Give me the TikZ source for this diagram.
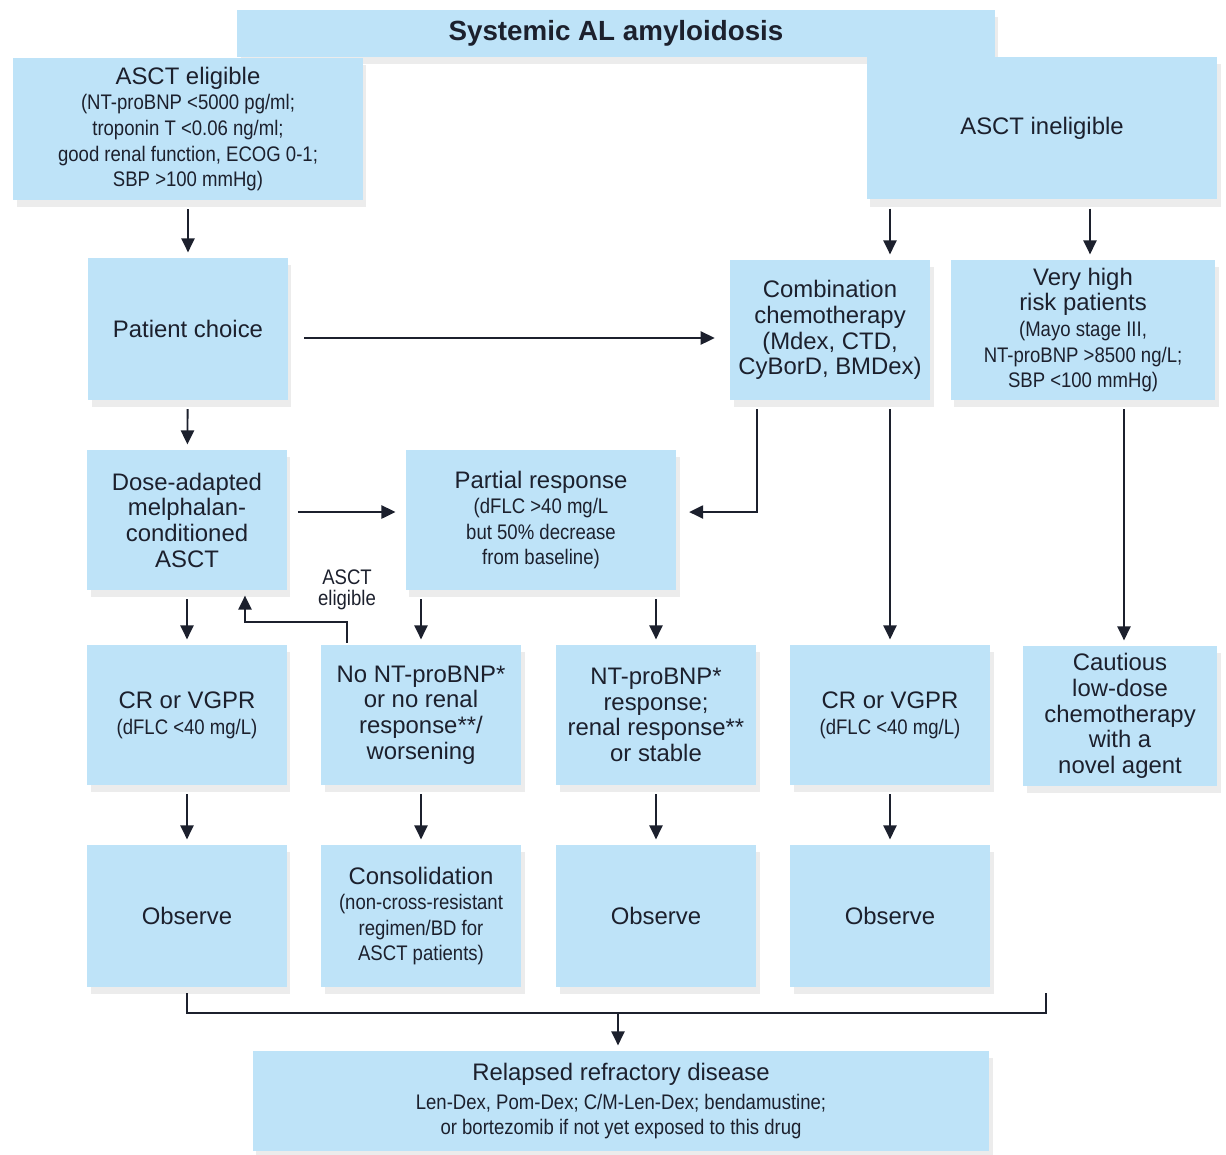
\documentclass[tikz,border=0pt]{standalone}
\usepackage{fontspec}
\setmainfont{Liberation Sans}
\newfontfamily\condfont[FakeStretch=0.88]{Liberation Sans}
\usetikzlibrary{arrows.meta, shadows}
\definecolor{boxblue}{RGB}{190,227,248}
\definecolor{ink}{RGB}{28,32,45}
\newcommand{\sm}{\condfont\fontsize{12}{14.3}\selectfont}

\begin{document}
\begin{tikzpicture}[x=0.02cm, y=-0.02cm,
    box/.style={fill=boxblue, text=ink, align=center, inner sep=2pt,
        minimum width=4cm, minimum height=2.8cm,
        font=\fontsize{13.6}{14.6}\selectfont,
        drop shadow={shadow xshift=2pt, shadow yshift=-4pt, opacity=0.15}},
    arr/.style={-{Triangle[length=8pt, width=7.5pt]}, line width=1.1pt, draw=ink,
        shorten <=5pt, shorten >=3pt},
    line/.style={line width=1.1pt, draw=ink}]
    \useasboundingbox (0,0) rectangle (1226,1154);

    % top rows
    \node[box, minimum width=15.16cm, minimum height=0.94cm,
        font=\bfseries\fontsize{15.8}{16}\selectfont] (title) at (616,33) {Systemic AL amyloidosis};
    \node[box, minimum width=7cm, minimum height=2.84cm] (elig) at (188,129)
        {ASCT eligible\\ \sm (NT-proBNP <5000 pg/ml;\\ \sm troponin T <0.06 ng/ml;\\
        \sm good renal function, ECOG 0-1;\\ \sm SBP >100 mmHg)};
    \node[box, minimum width=7.02cm, minimum height=2.86cm] (inelig) at (1042,128) {ASCT ineligible};

    \node[box, minimum height=2.84cm] (choice) at (188,329) {Patient choice};
    \node[box] (combo) at (830,330)
        {Combination\\ chemotherapy\\ (Mdex, CTD,\\ CyBorD, BMDex)};
    \node[box, minimum width=5.3cm] (risk) at (1083,330)
        {Very high\\ risk patients\\ \sm (Mayo stage III,\\ \sm NT-proBNP >8500 ng/L;\\ \sm SBP <100 mmHg)};

    \node[box] (asct) at (187,520) {Dose-adapted\\ melphalan-\\ conditioned\\ ASCT};
    \node[box, minimum width=5.42cm] (partial) at (541,520)
        {Partial response\\ \sm (dFLC >40 mg/L\\ \sm but 50\% decrease\\ \sm from baseline)};

    % responses
    \node[box] (crl) at (187,715) {CR or VGPR\\ \sm (dFLC <40 mg/L)};
    \node[box] (nonresp) at (421,715) {No NT-proBNP*\\ or no renal\\ response**/\\ worsening};
    \node[box] (resp) at (656,715) {NT-proBNP*\\ response;\\ renal response**\\ or stable};
    \node[box] (crr) at (890,715) {CR or VGPR\\ \sm (dFLC <40 mg/L)};
    \node[box, minimum width=3.88cm] (cautious) at (1120,716) {Cautious\\ low-dose\\ chemotherapy\\ with a\\ novel agent};

    \node[box, minimum height=2.84cm] (obs1) at (187,916) {Observe};
    \node[box, minimum height=2.84cm] (consol) at (421,916)
        {Consolidation\\ \sm (non-cross-resistant\\ \sm regimen/BD for\\ \sm ASCT patients)};
    \node[box, minimum height=2.84cm] (obs2) at (656,916) {Observe};
    \node[box, minimum height=2.84cm] (obs3) at (890,916) {Observe};

    \node[box, minimum width=14.74cm, minimum height=2cm] (relapse) at (621,1101)
        {Relapsed refractory disease\\[2pt] \sm Len-Dex, Pom-Dex; C/M-Len-Dex; bendamustine;\\
        \sm or bortezomib if not yet exposed to this drug};

    \node[text=ink, align=center] (lbl) at (347,590) {\sm ASCT\\ \sm eligible};

    % connectors
    \draw[arr] (elig.south -| choice.north) -- (choice.north);
    \draw[arr] (inelig.south -| crr.north) -- (combo.north -| crr.north);
    \draw[arr] ([xshift=0.14cm]inelig.south -| risk.north) -- ([xshift=0.14cm]risk.north);
    \draw[arr, shorten <=9pt, shorten >=8.5pt] ([yshift=-0.18cm]choice.east) -- ([yshift=-0.18cm]choice.east -| combo.west);
    \draw[arr] (choice) -- (asct);
    \draw[arr, shorten <=6pt, shorten >=5.5pt] ([yshift=0.16cm]asct.east) -- ([yshift=0.16cm]asct.east -| partial.west);
    \draw[arr, shorten >=7pt] ([xshift=-1.46cm]combo.south) |- ([yshift=0.16cm]partial.east);
    \draw[arr] (asct) -- (crl);
    \draw[arr] (partial.south -| nonresp.north) -- (nonresp.north);
    \draw[arr] (partial.south -| resp.north) -- (resp.north);
    \draw[arr, shorten <=1pt] ([xshift=-1.48cm]nonresp.north) -- ++(0,-23) -| ([xshift=1.16cm]asct.south);
    \draw[arr] (combo.south -| crr.north) -- (crr.north);
    \draw[arr] ([xshift=0.08cm]risk.south -| cautious.north) -- ([xshift=0.08cm]cautious.north);

    \draw[arr] (crl) -- (obs1);
    \draw[arr] (nonresp) -- (consol);
    \draw[arr] (resp) -- (obs2);
    \draw[arr] (crr) -- (obs3);

    % bracket to relapse
    \coordinate (rend) at (1046,993);
    \coordinate (join) at (618,1013);
    \draw[line] ([yshift=-0.12cm]obs1.south) |- (rend |- join) -- (rend);
    \draw[arr, shorten <=0pt] (join) -- (join |- relapse.north);
\end{tikzpicture}
\end{document}
